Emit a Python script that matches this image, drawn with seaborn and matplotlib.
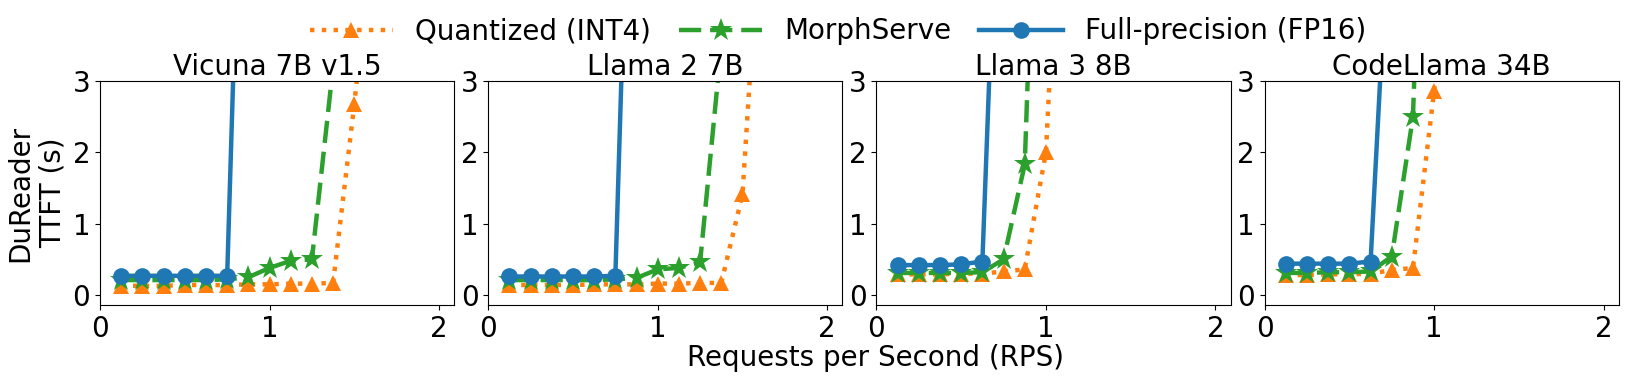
import numpy as np
import pandas as pd
import seaborn as sns
import matplotlib.pyplot as plt

# RPS grid (step 0.125); last point of each series blows past the y-limit
rps = np.arange(1, 14) * 0.125

models = ["Vicuna 7B v1.5", "Llama 2 7B", "Llama 3 8B", "CodeLlama 34B"]

int4_ttft = [
    [0.13, 0.13, 0.13, 0.14, 0.14, 0.14, 0.15, 0.15, 0.16, 0.16, 0.17, 2.67, 5.5],
    [0.14, 0.14, 0.14, 0.14, 0.15, 0.15, 0.15, 0.16, 0.16, 0.17, 0.17, 1.41, 6.1],
    [0.29, 0.29, 0.29, 0.30, 0.30, 0.33, 0.36, 2.0, 8.0],
    [0.28, 0.28, 0.29, 0.29, 0.30, 0.35, 0.38, 2.86, 5.8],
]
morph_ttft = [
    [0.21, 0.21, 0.21, 0.21, 0.21, 0.22, 0.25, 0.38, 0.48, 0.50, 3.2],
    [0.21, 0.21, 0.21, 0.21, 0.21, 0.22, 0.24, 0.36, 0.38, 0.46, 3.5],
    [0.31, 0.31, 0.31, 0.31, 0.32, 0.50, 1.83, 10.4],
    [0.31, 0.31, 0.32, 0.32, 0.33, 0.54, 2.50, 11.0],
]
fp16_ttft = [
    [0.27, 0.27, 0.27, 0.27, 0.27, 0.27, 10.0],
    [0.26, 0.26, 0.26, 0.26, 0.26, 0.27, 10.0],
    [0.42, 0.42, 0.42, 0.43, 0.47, 8.4],
    [0.44, 0.44, 0.44, 0.44, 0.47, 6.1],
]

series = [
    ("Quantized (INT4)", int4_ttft, "#ff7f0e", ":", "^", 12),
    ("MorphServe", morph_ttft, "#2ca02c", (0, (5, 2)), "*", 17),
    ("Full-precision (FP16)", fp16_ttft, "#1f77b4", "-", "o", 12),
]

fs = 20
plt.rcParams["font.size"] = fs
fig, axes = plt.subplots(1, 4, figsize=(16.27, 3.78), dpi=100)
fig.subplots_adjust(left=0.0615, right=0.995, top=0.786, bottom=0.193, wspace=0.096)

for i, ax in enumerate(axes):
    for name, vals, color, ls, mk, ms in series:
        y = vals[i]
        df = pd.DataFrame({"rps": rps[:len(y)], "ttft": y})
        sns.lineplot(data=df, x="rps", y="ttft", ax=ax, color=color, linestyle=ls,
                     linewidth=3.2, marker=mk, markersize=ms,
                     markeredgecolor=color, markeredgewidth=0, label=name)
    ax.set_xlim(0, 2.09)
    ax.set_ylim(-0.14, 3)
    ax.set_xticks([0, 1, 2])
    ax.set_yticks([0, 1, 2, 3])
    ax.set_title(models[i], fontsize=fs, pad=2)
    ax.set_xlabel("")
    ax.set_ylabel("")
    ax.tick_params(labelsize=fs)
    ax.get_legend().remove()

axes[0].set_ylabel("DuReader\nTTFT (s)", fontsize=fs, labelpad=4)
fig.text(0.538, 0.015, "Requests per Second (RPS)", ha="center", va="bottom", fontsize=fs)

handles, labels = axes[0].get_legend_handles_labels()
fig.legend(handles, labels, loc="upper center", bbox_to_anchor=(0.515, 1.02), ncol=3,
           frameon=False, fontsize=fs, handlelength=3, columnspacing=1.0)

fig.savefig("out.png", dpi=100)
